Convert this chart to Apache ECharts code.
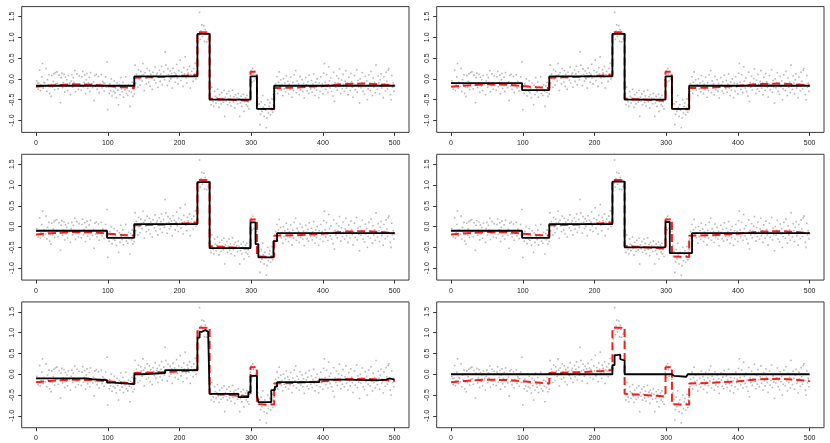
<!DOCTYPE html>
<html>
<head>
<meta charset="utf-8">
<script src="https://cdn.jsdelivr.net/npm/echarts@6/dist/echarts.min.js"></script>
<style>
html,body{margin:0;padding:0;background:#fff;}
#chart{width:830px;height:443px;}
</style>
</head>
<body>
<div id="chart"></div>
<script>
// ---- Data ----
const xTicks = [0, 100, 200, 300, 400, 500];
const yTicks = [-1.0, -0.5, 0.0, 0.5, 1.0, 1.5];

// noisy observations at x = 1..500 (same in every panel)
const obs = [
 -0.05,-0.10,-0.25,-0.10,0.21,-0.28,-0.15,0.05,0.37,-0.22,
 -0.08,-0.10,-0.18,0.25,-0.30,-0.02,-0.14,0.10,-0.35,-0.19,
 -0.42,0.08,-0.20,-0.06,0.12,-0.26,0.15,-0.12,0.17,-0.11,
 -0.24,0.09,-0.15,-0.57,0.03,0.14,-0.21,-0.09,0.11,-0.32,
 0.04,-0.17,-0.02,-0.28,0.08,-0.13,-0.10,-0.38,-0.05,0.10,
 -0.20,0.03,-0.09,0.20,-0.31,-0.15,0.12,-0.16,-0.25,0.07,
 -0.12,-0.14,-0.27,0.05,0.18,-0.19,-0.08,0.09,-0.36,-0.02,
 0.13,-0.23,-0.10,0.04,-0.30,0.15,-0.14,-0.12,-0.21,-0.07,
 -0.52,0.08,-0.18,0.11,-0.25,-0.17,0.06,-0.33,-0.13,-0.16,
 0.10,-0.22,-0.06,-0.10,-0.29,-0.11,0.05,-0.20,0.41,
 -0.74,-0.20,-0.35,-0.12,-0.28,0.00,-0.41,-0.18,-0.30,-0.05,
 -0.33,-0.22,-0.45,-0.10,-0.27,-0.62,-0.15,-0.38,0.03,-0.24,
 -0.31,-0.08,-0.44,-0.19,-0.26,0.05,-0.35,-0.21,-0.40,-0.14,
 -0.29,-0.66,-0.17,-0.32,-0.08,-0.42,-0.25,-0.36,
 0.33,-0.10,0.12,0.05,-0.20,0.22,0.00,-0.15,0.18,0.08,
 -0.05,0.37,0.10,-0.28,0.15,0.02,-0.12,0.25,0.06,-0.08,
 0.20,-0.18,0.11,0.03,-0.25,0.16,0.07,-0.03,0.28,-0.10,
 0.09,0.14,-0.20,0.04,0.21,-0.06,0.12,0.30,-0.14,0.05,
 0.17,-0.02,0.65,0.33,0.08,-0.16,0.24,0.10,-0.05,0.19,
 0.00,0.13,-0.22,0.26,0.06,0.15,-0.08,0.11,0.35,0.02,
 -0.12,0.20,0.08,0.45,-0.04,0.16,0.09,-0.18,0.27,0.12,
 0.53,0.03,-0.10,0.22,0.14,0.05,0.30,-0.22,0.10,0.18,
 0.07,-0.06,0.25,0.12,0.38,0.00,0.15,0.08,
 0.85,1.05,1.60,0.95,1.15,1.30,1.02,1.10,1.28,0.90,
 1.18,1.08,0.89,1.12,0.96,1.00,0.82,
 -0.35,-0.62,-0.20,-0.48,-0.55,-0.66,-0.30,-0.42,-0.58,-0.45,
 -0.25,-0.52,-0.68,-0.38,-0.50,-0.60,-0.33,-0.47,-0.56,-0.28,
 -0.90,-0.44,-0.53,-0.36,-0.62,-0.48,-0.30,-0.57,-0.41,-0.65,
 -0.50,-0.27,-0.55,-0.43,-0.70,-0.38,-0.52,-0.46,-0.60,-0.35,
 -0.48,-0.90,-0.58,-0.42,-0.66,-0.50,-0.37,-0.78,-0.54,-0.45,
 -0.62,-0.40,-0.66,-0.55,-0.72,-0.48,
 0.05,0.20,-0.08,0.25,0.12,-0.05,0.18,0.00,0.10,-0.12,
 -0.45,-0.72,-0.60,-1.10,-0.85,-0.55,-0.78,-0.40,-0.68,-0.90,
 -0.62,-0.75,-1.17,-0.94,-0.50,-0.82,-0.66,-0.58,-0.86,-0.70,
 -0.48,-0.80,-0.62,-0.55,
 -0.30,-0.12,-0.22,0.05,-0.35,-0.08,0.17,-0.18,-0.02,-0.27,
 -0.15,-0.40,0.00,-0.24,-0.10,-0.31,0.08,-0.20,-0.06,-0.36,
 -0.13,-0.25,0.04,-0.19,-0.44,-0.09,-0.28,0.10,-0.16,0.20,
 -0.33,-0.05,-0.21,-0.12,-0.38,0.06,-0.26,-0.17,-0.02,-0.30,
 -0.11,-0.46,-0.20,0.03,-0.14,-0.29,-0.07,-0.35,0.09,-0.18,
 -0.24,-0.04,-0.32,-0.13,0.12,-0.22,-0.40,-0.08,-0.27,0.00,
 -0.16,-0.45,-0.10,-0.30,0.05,-0.20,-0.12,-0.36,0.14,0.37,
 -0.08,-0.25,0.10,-0.18,-0.33,0.29,-0.05,-0.22,0.02,-0.30,
 -0.14,-0.41,0.16,-0.54,-0.09,-0.20,0.07,-0.27,-0.11,0.01,
 0.24,-0.17,-0.35,-0.03,-0.24,0.11,-0.13,-0.30,-0.06,0.20,
 -0.22,-0.10,-0.38,0.04,-0.16,-0.28,0.13,-0.07,-0.20,-0.44,
 -0.12,0.08,-0.26,-0.15,0.22,-0.32,-0.04,-0.19,-0.58,0.00,
 -0.21,-0.09,0.15,-0.30,-0.13,-0.37,0.06,-0.18,-0.05,-0.50,
 -0.24,0.10,-0.11,-0.28,0.18,-0.16,-0.40,0.02,-0.20,-0.08,
 -0.33,0.33,-0.14,-0.25,0.07,-0.10,-0.36,-0.02,0.12,-0.22,
 -0.17,-0.45,0.05,-0.12,-0.29,0.16,-0.06,-0.24,0.21,0.25,
 -0.15,-0.38,-0.50,0.08,-0.20,-0.10,-0.30,-0.17
];

// true signal (red dashed), breakpoints
const truthX = [0, 20, 50, 80, 100, 120, 137, 137, 180, 210, 225, 225, 242, 242, 299, 299, 308, 308, 332, 332, 360, 400, 430, 460, 480, 500];
const truthY = [-0.19, -0.16, -0.13, -0.14, -0.17, -0.20, -0.22, 0.03, 0.05, 0.08, 0.10, 1.12, 1.12, -0.47, -0.53, 0.17, 0.17, -0.72, -0.73, -0.22, -0.21, -0.17, -0.12, -0.11, -0.13, -0.16];

// estimates (black step functions), one per panel
const est1Breaks = [0, 137, 225, 242, 299, 308, 332, 500];
const est1Levels = [-0.165, 0.06, 1.08, -0.50, 0.06, -0.72, -0.165];
const est2Breaks = [0, 99, 137, 225, 242, 299, 308, 332, 500];
const est2Levels = [-0.10, -0.27, 0.06, 1.08, -0.50, 0.06, -0.72, -0.165];
const est3Breaks = [0, 99, 137, 225, 242, 299, 306, 310, 331, 336, 500];
const est3Levels = [-0.10, -0.27, 0.06, 1.07, -0.52, 0.10, -0.42, -0.74, -0.35, -0.16];
const est4Breaks = [0, 99, 137, 225, 242, 299, 305, 336, 500];
const est4Levels = [-0.10, -0.27, 0.06, 1.08, -0.50, 0.11, -0.64, -0.16];
const est5Breaks = [0, 70, 78, 99, 108, 137, 148, 180, 225, 228, 231, 236, 240, 242, 282, 296, 299, 308, 310, 328, 333, 336, 395, 430, 475, 488, 493, 500];
const est5Levels = [-0.10, -0.12, -0.14, -0.20, -0.24, 0.00, 0.03, 0.10, 0.88, 1.02, 1.06, 1.02, 0.95, -0.47, -0.55, -0.43, -0.04, -0.50, -0.67, -0.38, -0.30, -0.19, -0.13, -0.15, -0.13, -0.10, -0.13];
const est6Breaks = [0, 225, 228, 231, 236, 238, 242, 308, 311, 328, 330, 500];
const est6Levels = [0.00, 0.22, 0.46, 0.47, 0.36, 0.33, 0.00, -0.04, -0.06, -0.02, 0.00];

const estimates = [
  [est1Breaks, est1Levels], [est2Breaks, est2Levels],
  [est3Breaks, est3Levels], [est4Breaks, est4Levels],
  [est5Breaks, est5Levels], [est6Breaks, est6Levels]
];

// ---- Build ----
const chart = echarts.init(document.getElementById('chart'), null, {renderer: 'canvas'});
const font = 'Liberation Sans, Arial, sans-serif';
const grids = [], xAxes = [], yAxes = [], series = [];
const rowH = 443 / 3;
const obsData = obs.map((v, i) => [i + 1, v]);
const truthData = truthX.map((x, i) => [x, truthY[i]]);

for (let p = 0; p < 6; p++) {
  const r = Math.floor(p / 2), c = p % 2;
  grids.push({
    left: c === 0 ? 21.7 : 436.7,
    top: r * rowH + 6.6,
    width: 387.3,
    height: 125.8,
    show: true,
    borderColor: '#3a3a3a',
    borderWidth: 1,
    backgroundColor: 'transparent'
  });
  xAxes.push({
    type: 'value', gridIndex: p, min: -20, max: 520, position: 'bottom',
    splitLine: {show: false},
    axisLine: {show: false, onZero: false},
    axisTick: {show: true, length: 3.5, customValues: xTicks, lineStyle: {color: '#333', width: 1}},
    axisLabel: {show: true, customValues: xTicks, fontSize: 7, color: '#222', fontFamily: font, margin: 7}
  });
  yAxes.push({
    type: 'value', gridIndex: p, min: -1.286, max: 1.738, position: 'left',
    splitLine: {show: false},
    axisLine: {show: false, onZero: false},
    axisTick: {show: true, length: 3.5, customValues: yTicks, lineStyle: {color: '#333', width: 1}},
    axisLabel: {show: true, customValues: yTicks, fontSize: 7, color: '#222', fontFamily: font, rotate: 90, margin: 6,
      formatter: v => v.toFixed(1)}
  });
  series.push({
    type: 'scatter', xAxisIndex: p, yAxisIndex: p, data: obsData,
    symbol: 'rect', symbolSize: 1.6, itemStyle: {color: '#a8a8a8'}, z: 1, silent: true
  });
  series.push({
    type: 'line', xAxisIndex: p, yAxisIndex: p, data: truthData,
    symbol: 'none', lineStyle: {color: '#ff1a1a', width: 2, type: [8, 4]}, z: 2, silent: true
  });
  const [b, lv] = estimates[p];
  const estData = [];
  for (let i = 0; i < lv.length; i++) {
    estData.push([b[i], lv[i]]);
    estData.push([b[i + 1], lv[i]]);
  }
  series.push({
    type: 'line', xAxisIndex: p, yAxisIndex: p, data: estData,
    symbol: 'none', lineStyle: {color: '#000', width: 1.8}, z: 3, silent: true
  });
}

chart.setOption({
  animation: false,
  backgroundColor: '#fff',
  grid: grids, xAxis: xAxes, yAxis: yAxes, series: series
});
</script>
</body>
</html>
